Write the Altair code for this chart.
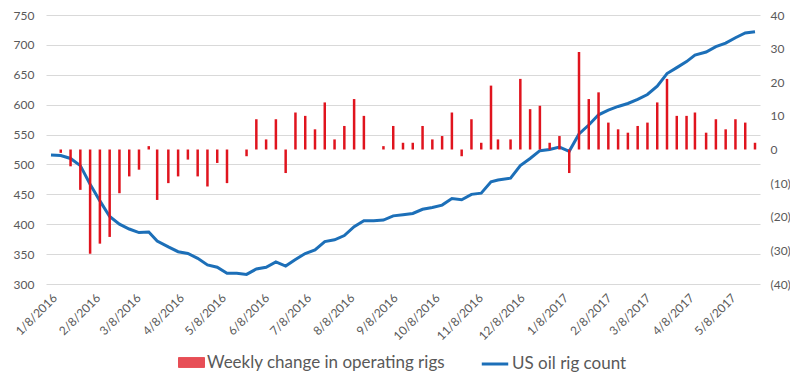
import altair as alt
import pandas as pd

dates = [
    "2016-01-08", "2016-01-15", "2016-01-22", "2016-01-29",
    "2016-02-05", "2016-02-12", "2016-02-19", "2016-02-26",
    "2016-03-04", "2016-03-11", "2016-03-18", "2016-03-24",
    "2016-04-01", "2016-04-08", "2016-04-15", "2016-04-22", "2016-04-29",
    "2016-05-06", "2016-05-13", "2016-05-20", "2016-05-27",
    "2016-06-03", "2016-06-10", "2016-06-17", "2016-06-24",
    "2016-07-01", "2016-07-08", "2016-07-15", "2016-07-22", "2016-07-29",
    "2016-08-05", "2016-08-12", "2016-08-19", "2016-08-26",
    "2016-09-02", "2016-09-09", "2016-09-16", "2016-09-23", "2016-09-30",
    "2016-10-07", "2016-10-14", "2016-10-21", "2016-10-28",
    "2016-11-04", "2016-11-11", "2016-11-18", "2016-11-23",
    "2016-12-02", "2016-12-09", "2016-12-16", "2016-12-23", "2016-12-30",
    "2017-01-06", "2017-01-13", "2017-01-20", "2017-01-27",
    "2017-02-03", "2017-02-10", "2017-02-17", "2017-02-24",
    "2017-03-03", "2017-03-10", "2017-03-17", "2017-03-24", "2017-03-31",
    "2017-04-07", "2017-04-13", "2017-04-21", "2017-04-28",
    "2017-05-05", "2017-05-12", "2017-05-19", "2017-05-26",
]

rig_count = [
    516, 515, 510, 498,
    467, 439, 413, 400,
    392, 386, 387, 372,
    362, 354, 351, 343, 332,
    328, 318, 318, 316,
    325, 328, 337, 330,
    341, 351, 357, 371, 374,
    381, 396, 406, 406,
    407, 414, 416, 418, 425,
    428, 432, 443, 441,
    450, 452, 471, 474,
    477, 498, 510, 523, 525,
    529, 522, 551, 566,
    583, 591, 597, 602,
    609, 617, 631, 652, 662,
    672, 683, 688, 697,
    703, 712, 720, 722,
]

weekly_change = [
    None, -1, -5, -12,
    -31, -28, -26, -13,
    -8, -6, 1, -15,
    -10, -8, -3, -8, -11,
    -4, -10, 0, -2,
    9, 3, 9, -7,
    11, 10, 6, 14, 3,
    7, 15, 10, 0,
    1, 7, 2, 2, 7,
    3, 4, 11, -2,
    9, 2, 19, 3,
    3, 21, 12, 13, 2,
    4, -7, 29, 15,
    17, 8, 6, 5,
    7, 8, 14, 21, 10,
    10, 11, 5, 9,
    6, 9, 8, 2,
]

left_ticks = [300, 350, 400, 450, 500, 550, 600, 650, 700, 750]
right_ticks = [-40, -30, -20, -10, 0, 10, 20, 30, 40]
month_ticks = [(2016, m) for m in range(1, 13)] + [(2017, m) for m in range(1, 6)]

bar_name = "Weekly change in operating rigs"
line_name = "US oil rig count"

df = pd.DataFrame({
    "date": dates,
    "count": rig_count,
    "change": weekly_change,
    "bar_series": bar_name,
    "line_series": line_name,
})

FONT = "Lato"
TXT = "#595959"
RED = "#E0141E"
BLUE = "#1C6FB8"

xscale = alt.Scale(
    type="utc",
    domain=[alt.DateTime(year=2016, month=1, date=8, utc=True),
            alt.DateTime(year=2017, month=5, date=26, utc=True)],
)
xaxis = alt.Axis(
    title=None,
    values=[alt.DateTime(year=y, month=m, date=8, utc=True) for y, m in month_ticks],
    labelExpr="utcFormat(datum.value, '%-m/%-d/%Y')",
    labelAngle=-45,
    labelAlign="right",
    labelBaseline="top",
    labelPadding=8,
    labelOverlap=False,
    labelBound=False,
    ticks=False,
    domain=False,
    grid=False,
    labelColor=TXT,
    labelFont=FONT,
    labelFontSize=12,
)

bars = alt.Chart(df).mark_bar(size=2.5).encode(
    x=alt.X("date:T", scale=xscale, axis=xaxis),
    y=alt.Y(
        "change:Q",
        scale=alt.Scale(domain=[-40, 40], nice=False, zero=False),
        axis=alt.Axis(
            orient="right",
            title=None,
            values=right_ticks,
            labelExpr="datum.value < 0 ? '(' + abs(datum.value) + ')' : '' + datum.value",
            grid=False,
            ticks=False,
            domain=False,
            labelPadding=10,
            labelColor=TXT,
            labelFont=FONT,
            labelFontSize=12,
        ),
    ),
    y2=alt.datum(0),
    color=alt.Color(
        "bar_series:N",
        scale=alt.Scale(domain=[bar_name], range=[RED]),
        legend=alt.Legend(
            title=None,
            orient="none",
            legendX=132,
            legendY=334,
            symbolType="M-1,-0.38H1V0.38H-1Z",
            symbolSize=676,
            symbolStrokeColor=RED,
            symbolStrokeWidth=1,
            symbolOpacity=0.75,
            labelFont=FONT,
            labelFontSize=17,
            labelColor=TXT,
            labelOffset=2,
            labelLimit=0,
        ),
    ),
)

line = alt.Chart(df).mark_line(strokeWidth=3, color=BLUE).encode(
    x=alt.X("date:T", scale=xscale, axis=xaxis),
    y=alt.Y(
        "count:Q",
        scale=alt.Scale(domain=[300, 750], nice=False, zero=False),
        axis=alt.Axis(
            orient="left",
            title=None,
            values=left_ticks,
            grid=True,
            gridColor="#D9D9D9",
            gridWidth=1,
            ticks=False,
            domain=False,
            labelPadding=12,
            labelColor=TXT,
            labelFont=FONT,
            labelFontSize=12,
        ),
    ),
    color=alt.Color(
        "line_series:N",
        scale=alt.Scale(domain=[line_name], range=[BLUE]),
        legend=alt.Legend(
            title=None,
            orient="none",
            legendX=434,
            legendY=334,
            symbolType="stroke",
            symbolSize=700,
            symbolStrokeWidth=3,
            labelFont=FONT,
            labelFontSize=17,
            labelColor=TXT,
            labelOffset=2,
            labelLimit=0,
        ),
    ),
)

chart = (
    alt.layer(line, bars)
    .resolve_scale(y="independent", color="independent")
    .properties(
        width=714,
        height=269,
        autosize=alt.AutoSizeParams(type="none"),
        padding={"left": 38, "top": 7, "right": 30, "bottom": 90},
        background="white",
    )
    .configure_view(stroke=None)
)

chart.save("out.html", embed_options={"renderer": "svg", "actions": False})
